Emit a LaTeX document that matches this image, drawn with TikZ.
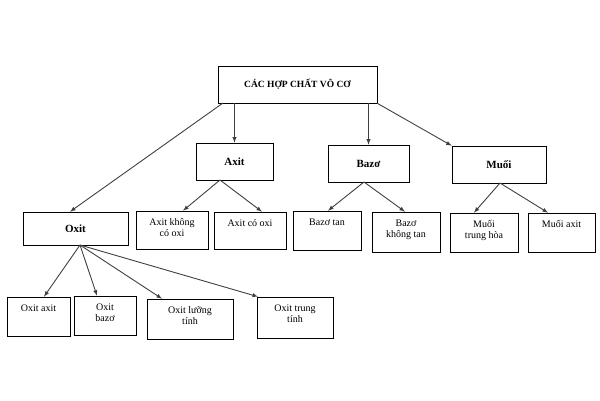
\documentclass[tikz,border=0pt]{standalone}
\usepackage{fontspec}
\setmainfont{Liberation Serif}
\begin{document}
\begin{tikzpicture}[x=1pt,y=-1pt,
  box/.style={draw,line width=0.6pt,inner sep=0pt},
  txt/.style={font=\fontsize{10}{11}\selectfont,align=center},
  arr/.style={draw=black!75,line width=0.9pt,-latex}]
\useasboundingbox (0,0) rectangle (600,400);
\newcommand\bx[6]{\node[box,minimum width=#4-#2,minimum height=#5-#3] (#1) at ({(#2+#4)/2},{(#3+#5)/2}) {};
  \node[txt,anchor=north] (#1t) at ({(#2+#4)/2},#3+4) {#6};}
\newcommand\bxc[6]{\node[box,minimum width=#4-#2,minimum height=#5-#3,font=\bfseries\fontsize{#6}{12}\selectfont] (#1) at ({(#2+#4)/2},{(#3+#5)/2})}
\bxc{top}{218}{66}{377}{103}{9.5} {CÁC HỢP CHẤT VÔ CƠ};
\bxc{axit}{196}{143}{273}{180}{11} {Axit};
\bxc{bazo}{328}{145}{409}{182}{11} {Bazơ};
\bxc{muoi}{452}{146}{546}{183}{11} {Muối};
\bxc{oxit}{23}{212}{128}{245}{11} {Oxit};
\bx{akco}{136}{211}{208}{249}{Axit không\\có oxi}
\bx{aco}{214}{212}{286}{249}{Axit có oxi}
\bx{btan}{293}{211}{361}{250}{Bazơ tan}
\bx{bktan}{372}{212}{440}{252}{Bazơ\\không tan}
\bx{mth}{450}{213}{518}{252}{Muối\\trung hòa}
\bx{max}{528}{213}{595}{252}{Muối axit}
\bx{oa}{7}{297}{70}{336}{Oxit axit}
\bx{ob}{74}{296}{136}{335}{Oxit\\bazơ}
\bx{olt}{147}{299}{233}{339}{Oxit lưỡng\\tính}
\bx{otr}{257}{297}{333}{338}{Oxit trung\\tính}
\coordinate (t1) at (223,103);
\coordinate (ob1) at (80,245);
\coordinate (ax1) at (220,180);
\coordinate (bz1) at (364,182);
\coordinate (mu1) at (500,183);
\draw[arr] (t1) -- (oxit.north -| 70,0);
\draw[arr] (top.south -| axit.north) -- (axit.north);
\draw[arr] (top.south -| bazo.north) -- (bazo.north);
\draw[arr] (top.south east) -- (muoi.north west);
\draw[arr] (ax1) -- (akco.north -| 183,0);
\draw[arr] (ax1) -- (aco.north -| 262,0);
\draw[arr] (bz1) -- (btan.north -| 328,0);
\draw[arr] (bz1) -- (bktan.north -| 405,0);
\draw[arr] (mu1) -- (mth.north -| 474,0);
\draw[arr] (mu1) -- (max.north -| 548,0);
\draw[arr] (ob1) -- (oa.north -| 44,0);
\draw[arr] (ob1) -- (ob.north -| 97,0);
\draw[arr] (ob1) -- (olt.north -| 162,0);
\draw[arr] (ob1) -- (otr.north -| 258,0);
\end{tikzpicture}
\end{document}
